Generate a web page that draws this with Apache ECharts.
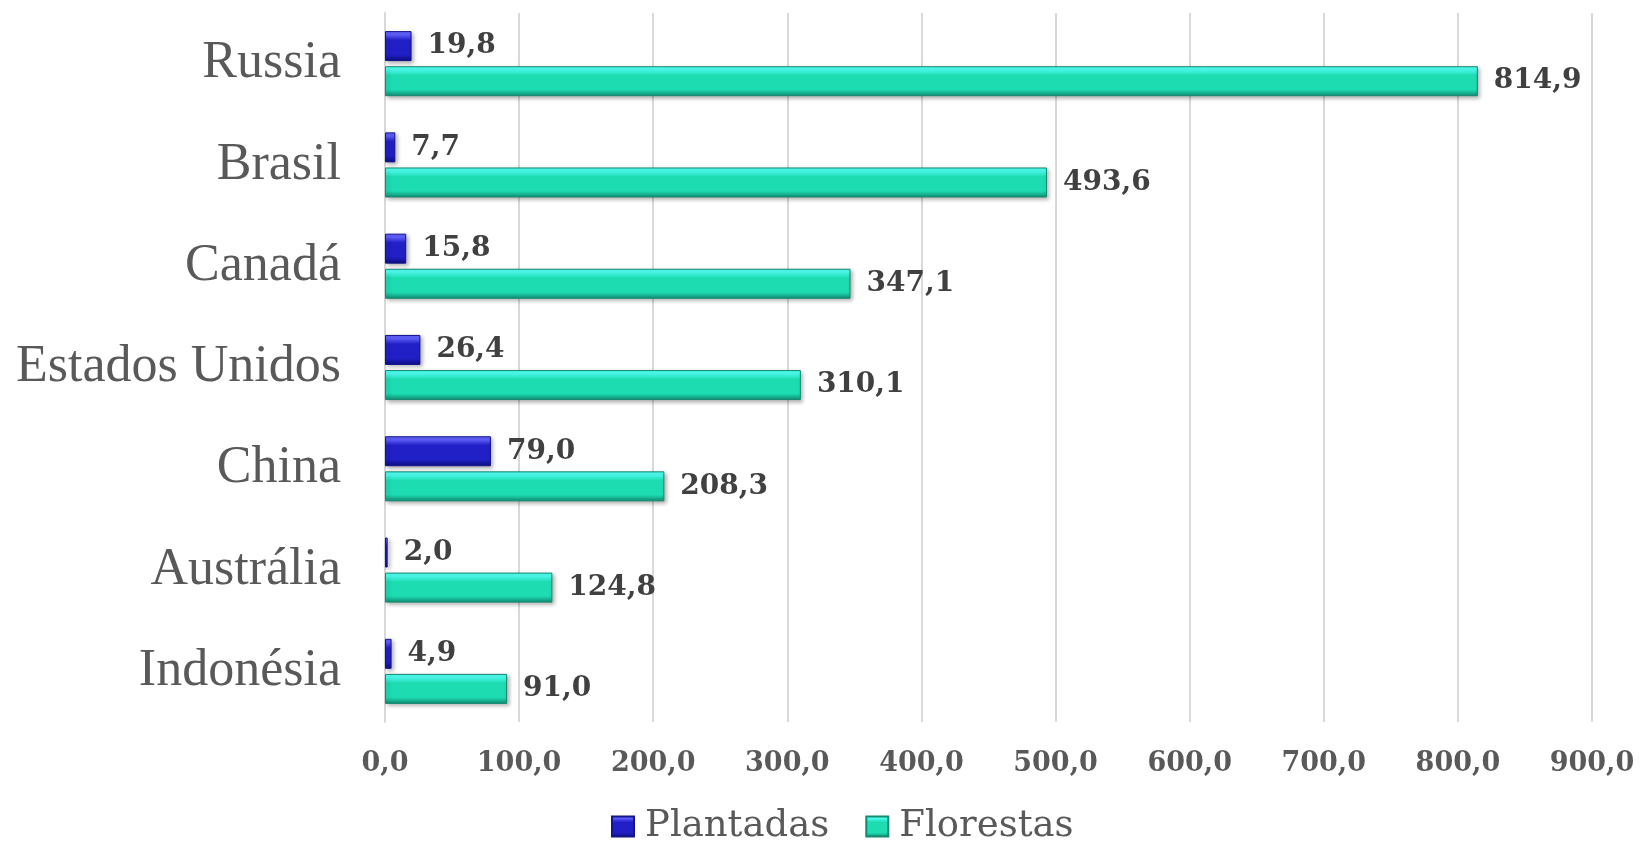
<!DOCTYPE html>
<html>
<head>
<meta charset="utf-8">
<title>Florestas</title>
<script src="https://cdn.jsdelivr.net/npm/echarts@6/dist/echarts.min.js"></script>
<style>
  html, body { margin: 0; padding: 0; background: #fff; }
  #main { width: 1645px; height: 844px; }
</style>
</head>
<body>
<div id="main"></div>
<script>
// dados
const paises = ['Russia', 'Brasil', 'Canadá', 'Estados Unidos', 'China', 'Austrália', 'Indonésia'];
const plantadas = [19.8, 7.7, 15.8, 26.4, 79.0, 2.0, 4.9];
const florestas = [814.9, 493.6, 347.1, 310.1, 208.3, 124.8, 91.0];

// virgula como separador decimal
const fmt = (v) => Number(v).toFixed(1).replace('.', ',');

// gradiente para imitar o bisel do Excel
const bevel = (top, mid, bottom) => new echarts.graphic.LinearGradient(0, 0, 0, 1, [
  { offset: 0, color: top },
  { offset: 0.12, color: top },
  { offset: 0.3, color: mid },
  { offset: 0.78, color: mid },
  { offset: 1, color: bottom }
]);

const chart = echarts.init(document.getElementById('main'));
window.addEventListener('resize', function () {
  chart.resize();
});

const labelStyle = {
  show: true,
  position: 'right',
  distance: 16,
  fontFamily: 'DejaVu Serif',
  fontWeight: 'bold',
  fontSize: 28,
  color: '#404040',
  formatter: (p) => fmt(p.value)
};

chart.setOption({
  animation: false,
  grid: {
    left: 385,
    right: 53,
    top: 13,
    bottom: 122
  },
  legend: {
    left: 606,
    top: 803,
    icon: 'rect',
    itemWidth: 22,
    itemHeight: 20,
    itemGap: 36,
    textStyle: {
      fontFamily: 'DejaVu Serif',
      fontSize: 37,
      color: '#595959',
      padding: [0, 0, 0, 6]
    },
    data: ['Plantadas', 'Florestas']
  },
  xAxis: {
    type: 'value',
    min: 0,
    max: 900,
    interval: 100,
    axisLine: { show: false },
    axisTick: { show: false },
    splitLine: { lineStyle: { color: '#d9d9d9', width: 2 } },
    axisLabel: {
      margin: 28,
      fontFamily: 'DejaVu Serif',
      fontWeight: 'bold',
      fontSize: 27,
      color: '#595959',
      formatter: fmt
    }
  },
  yAxis: {
    type: 'category',
    inverse: true,
    data: paises,
    axisLine: { show: true, lineStyle: { color: '#d9d9d9', width: 2 } },
    axisTick: { show: false },
    axisLabel: {
      margin: 44,
      fontFamily: 'Liberation Serif',
      fontSize: 52,
      color: '#595959'
    }
  },
  series: [
    {
      name: 'Plantadas',
      type: 'bar',
      data: plantadas,
      barWidth: 30,
      barGap: '17%',
      itemStyle: {
        color: bevel('#6060ff', '#2020c6', '#0c0c80'),
        borderColor: '#14148c',
        borderWidth: 1,
        shadowColor: 'rgba(0,0,0,0.3)',
        shadowBlur: 4,
        shadowOffsetX: 2,
        shadowOffsetY: 2
      },
      label: labelStyle
    },
    {
      name: 'Florestas',
      type: 'bar',
      data: florestas,
      barWidth: 30,
      barGap: '17%',
      itemStyle: {
        color: bevel('#4dfff0', '#1edcb2', '#0f8a72'),
        borderColor: '#158a70',
        borderWidth: 1,
        shadowColor: 'rgba(0,0,0,0.3)',
        shadowBlur: 4,
        shadowOffsetX: 2,
        shadowOffsetY: 2
      },
      label: labelStyle
    }
  ]
});
</script>
</body>
</html>
